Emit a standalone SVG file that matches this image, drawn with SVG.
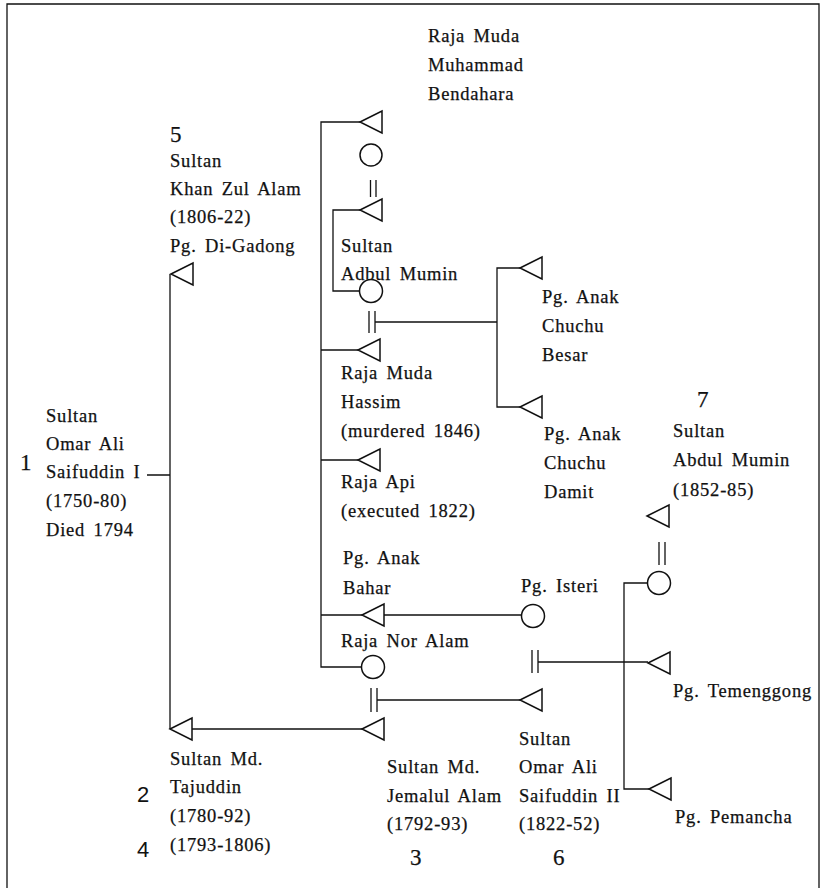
<svg xmlns="http://www.w3.org/2000/svg" width="822" height="888" viewBox="0 0 822 888">
<defs>
<style>
.t{font-size:18.5px;letter-spacing:0.8px;word-spacing:3px;fill:#111;stroke:#111;stroke-width:0.25}
.n{font-size:23px;fill:#111;stroke:#111;stroke-width:0.25}
.ns{font-family:'Liberation Sans',Arial,sans-serif;font-size:22px;fill:#111}
.ln{fill:none;stroke:#111;stroke-width:1.3}
.sh{fill:#fff;stroke:#111;stroke-width:1.5}
</style>
<path id="tri" d="M0,0 L22,-11 L22,11 Z"/>
</defs>
<rect width="822" height="888" fill="#fff"/>
<path class="ln" d="M7,890 V4 H819 V890" stroke-width="1.5"/>

<g id="connectors">
<path class="ln" d="M147,475 H170 M170,274 V729 M192,729 H362"/>
<path class="ln" d="M360,122 H321 V667 H361.5 M321,350 H358 M321,460 H358 M321,615 H362 M384,615 H521.5"/>
<path class="ln" d="M360,210 H333 V291 H359.5"/>
<path class="ln" d="M370.5,180 V197 M376,180 V197"/>
<path class="ln" d="M369,311 V333 M375,311 V333 M375,322 H497 M520,268 H497 V407 H520"/>
<path class="ln" d="M371,688 V712 M377,688 V712 M377,700 H520"/>
<path class="ln" d="M532,650 V673 M538,650 V673 M538,662 H648"/>
<path class="ln" d="M647.5,583 H624 V789 H649"/>
<path class="ln" d="M659,542 V565 M665,542 V565"/>
</g>

<g font-family="Liberation Serif, Times New Roman, serif">
<g id="n-bendahara">
<use href="#tri" class="sh" x="360" y="122"/>
<text class="t" x="428" y="42">Raja Muda</text>
<text class="t" x="428" y="71">Muhammad</text>
<text class="t" x="428" y="100">Bendahara</text>
</g>
<g id="n-bendahara-wife"><circle class="sh" cx="371" cy="155" r="11"/></g>
<g id="n-adbul-mumin">
<use href="#tri" class="sh" x="360" y="210"/>
<text class="t" x="341" y="252">Sultan</text>
<text class="t" x="341" y="280">Adbul Mumin</text>
</g>
<g id="n-adbul-wife"><circle class="sh" cx="371" cy="291" r="11.5"/></g>
<g id="n-khan-zul-alam">
<use href="#tri" class="sh" x="171" y="274"/>
<text class="n" x="170" y="142">5</text>
<text class="t" x="170" y="167">Sultan</text>
<text class="t" x="170" y="195">Khan Zul Alam</text>
<text class="t" x="170" y="223">(1806-22)</text>
<text class="t" x="170" y="252">Pg. Di-Gadong</text>
</g>
<g id="n-chuchu-besar">
<use href="#tri" class="sh" x="520" y="268"/>
<text class="t" x="542" y="303">Pg. Anak</text>
<text class="t" x="542" y="332">Chuchu</text>
<text class="t" x="542" y="361">Besar</text>
</g>
<g id="n-hassim">
<use href="#tri" class="sh" x="358" y="350"/>
<text class="t" x="341" y="379">Raja Muda</text>
<text class="t" x="341" y="408">Hassim</text>
<text class="t" x="341" y="437">(murdered 1846)</text>
</g>
<g id="n-chuchu-damit">
<use href="#tri" class="sh" x="520" y="407"/>
<text class="t" x="544" y="440">Pg. Anak</text>
<text class="t" x="544" y="469">Chuchu</text>
<text class="t" x="544" y="498">Damit</text>
</g>
<g id="n-api">
<use href="#tri" class="sh" x="358" y="460"/>
<text class="t" x="341" y="488">Raja Api</text>
<text class="t" x="341" y="517">(executed 1822)</text>
</g>
<g id="n-omar-ali-1">
<text class="n" x="20" y="470">1</text>
<text class="t" x="46" y="422">Sultan</text>
<text class="t" x="46" y="450">Omar Ali</text>
<text class="t" x="46" y="478">Saifuddin I</text>
<text class="t" x="46" y="507">(1750-80)</text>
<text class="t" x="46" y="536">Died 1794</text>
</g>
<g id="n-abdul-mumin-7">
<use href="#tri" class="sh" x="647" y="516"/>
<text class="n" x="697" y="407">7</text>
<text class="t" x="673" y="437">Sultan</text>
<text class="t" x="673" y="466">Abdul Mumin</text>
<text class="t" x="673" y="496">(1852-85)</text>
</g>
<g id="n-mumin7-wife"><circle class="sh" cx="659" cy="583" r="11.5"/></g>
<g id="n-bahar">
<use href="#tri" class="sh" x="362" y="615"/>
<text class="t" x="343" y="564">Pg. Anak</text>
<text class="t" x="343" y="594">Bahar</text>
</g>
<g id="n-isteri">
<circle class="sh" cx="533" cy="616" r="11.5"/>
<text class="t" x="521" y="592">Pg. Isteri</text>
</g>
<g id="n-nor-alam">
<circle class="sh" cx="373" cy="667" r="11.5"/>
<text class="t" x="341" y="647">Raja Nor Alam</text>
</g>
<g id="n-temenggong">
<use href="#tri" class="sh" x="648" y="663"/>
<text class="t" x="673" y="697">Pg. Temenggong</text>
</g>
<g id="n-omar-ali-2">
<use href="#tri" class="sh" x="520" y="700"/>
<text class="t" x="519" y="745">Sultan</text>
<text class="t" x="519" y="773">Omar Ali</text>
<text class="t" x="519" y="802">Saifuddin II</text>
<text class="t" x="519" y="830">(1822-52)</text>
<text class="n" x="553" y="865">6</text>
</g>
<g id="n-tajuddin">
<use href="#tri" class="sh" x="170" y="729"/>
<text class="t" x="170" y="765">Sultan Md.</text>
<text class="t" x="170" y="793">Tajuddin</text>
<text class="t" x="170" y="822">(1780-92)</text>
<text class="t" x="170" y="851">(1793-1806)</text>
<text class="ns" x="137" y="802">2</text>
<text class="ns" x="137" y="857">4</text>
</g>
<g id="n-jemalul">
<use href="#tri" class="sh" x="362" y="729"/>
<text class="t" x="387" y="773">Sultan Md.</text>
<text class="t" x="387" y="802">Jemalul Alam</text>
<text class="t" x="387" y="830">(1792-93)</text>
<text class="n" x="410" y="865">3</text>
</g>
<g id="n-pemancha">
<use href="#tri" class="sh" x="649" y="789"/>
<text class="t" x="675" y="823">Pg. Pemancha</text>
</g>
</g>
</svg>
